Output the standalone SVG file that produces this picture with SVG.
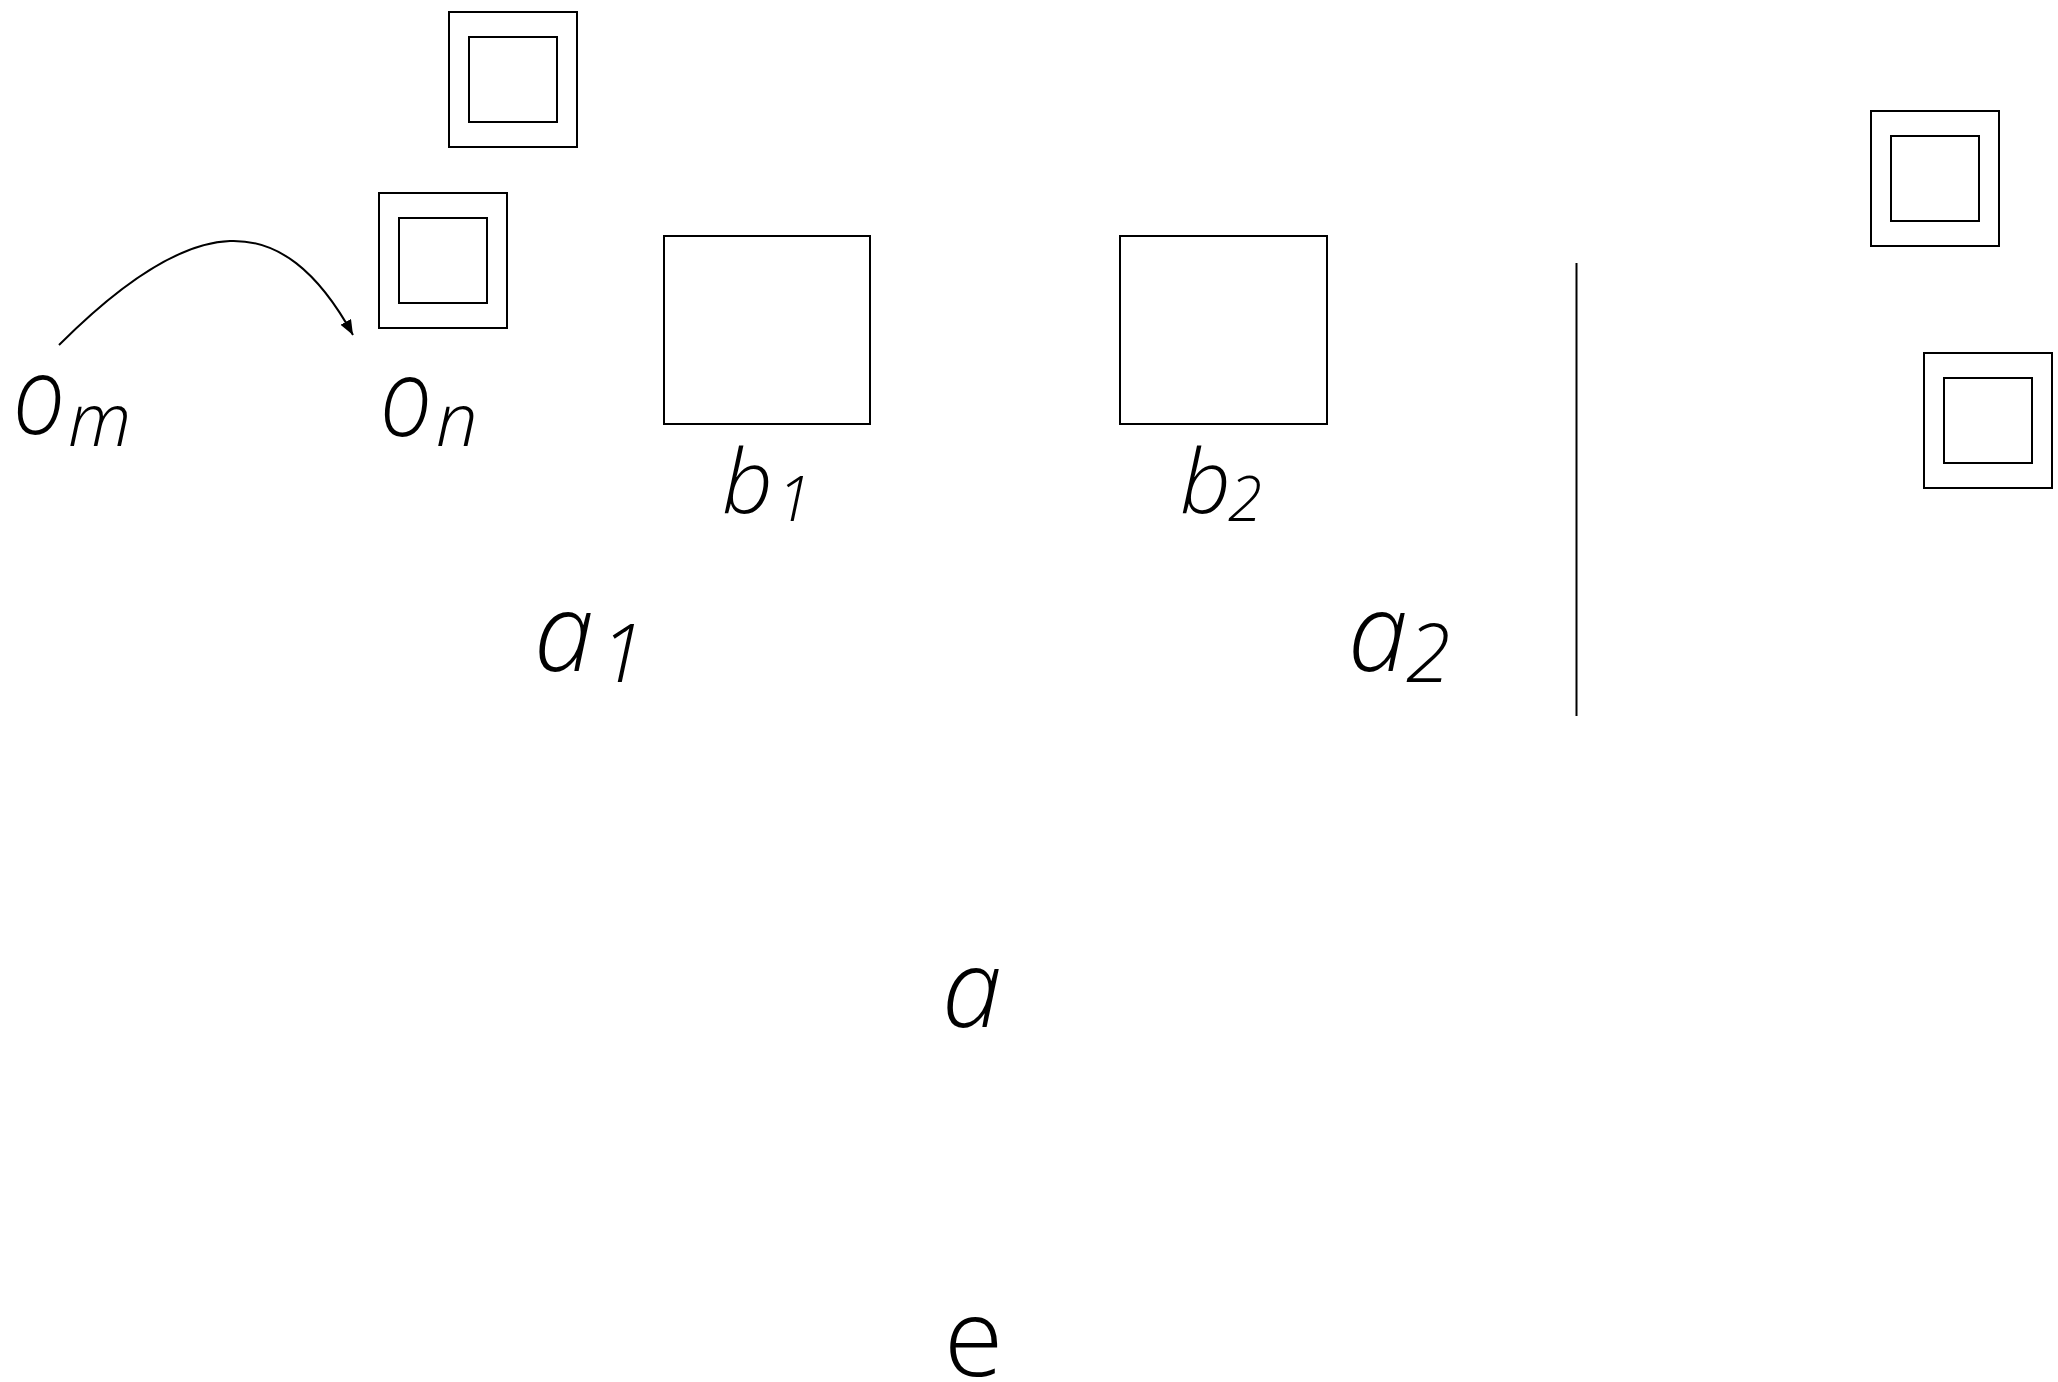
<svg xmlns="http://www.w3.org/2000/svg" width="2058" height="1382" viewBox="0 0 2058 1382">
<style>
.box{fill:none;stroke:#000;stroke-width:2}
.lbl{font-family:"Open Sans","Noto Sans","Liberation Sans",sans-serif;font-style:italic;font-weight:300;fill:#000}
.up{font-style:normal}
.conn{fill:none;stroke:#000;stroke-width:2}
</style>
<defs>
<marker id="ah" markerUnits="userSpaceOnUse" markerWidth="16" markerHeight="13" refX="15" refY="6" orient="auto">
<path d="M0,0 L15,6 L0,12 z" fill="#000"/>
</marker>
</defs>
<rect width="2058" height="1382" fill="#fff"/>
<g id="connectors">
<path class="conn" d="M59,345 C194,210 282,206 353,335" marker-end="url(#ah)"/>
<line class="conn" x1="1576.5" y1="263" x2="1576.5" y2="716"/>
</g>
<g id="dbox1"><rect class="box" x="449" y="12" width="128" height="135"/><rect class="box" x="469" y="37" width="88" height="85"/></g>
<g id="dbox2"><rect class="box" x="379" y="193" width="128" height="135"/><rect class="box" x="399" y="218" width="88" height="85"/></g>
<g id="dbox3"><rect class="box" x="1871" y="111" width="128" height="135"/><rect class="box" x="1891" y="136" width="88" height="85"/></g>
<g id="dbox4"><rect class="box" x="1924" y="353" width="128" height="135"/><rect class="box" x="1944" y="378" width="88" height="85"/></g>
<g id="b1"><rect class="box" x="664" y="236" width="206" height="188"/>
<text class="lbl"><tspan x="722" y="513" font-size="89">b</tspan><tspan x="777" y="521" font-size="62">1</tspan></text></g>
<g id="b2"><rect class="box" x="1120" y="236" width="207" height="188"/>
<text class="lbl"><tspan x="1180" y="513" font-size="89">b</tspan><tspan x="1228" y="521" font-size="62">2</tspan></text></g>
<g id="om"><text class="lbl"><tspan x="13" y="434" font-size="108" textLength="52" lengthAdjust="spacingAndGlyphs">o</tspan><tspan x="68" y="446" font-size="74">m</tspan></text></g>
<g id="on"><text class="lbl"><tspan x="380" y="436" font-size="108" textLength="52" lengthAdjust="spacingAndGlyphs">o</tspan><tspan x="436" y="446" font-size="74">n</tspan></text></g>
<g id="a1"><text class="lbl"><tspan x="534" y="671" font-size="108">a</tspan><tspan x="600" y="682" font-size="81">1</tspan></text></g>
<g id="a2"><text class="lbl"><tspan x="1348" y="671" font-size="108">a</tspan><tspan x="1406" y="682" font-size="81">2</tspan></text></g>
<g id="a"><text class="lbl" x="942" y="1027" font-size="108">a</text></g>
<g id="e"><text class="lbl up" x="944" y="1376" font-size="108">e</text></g>
</svg>
